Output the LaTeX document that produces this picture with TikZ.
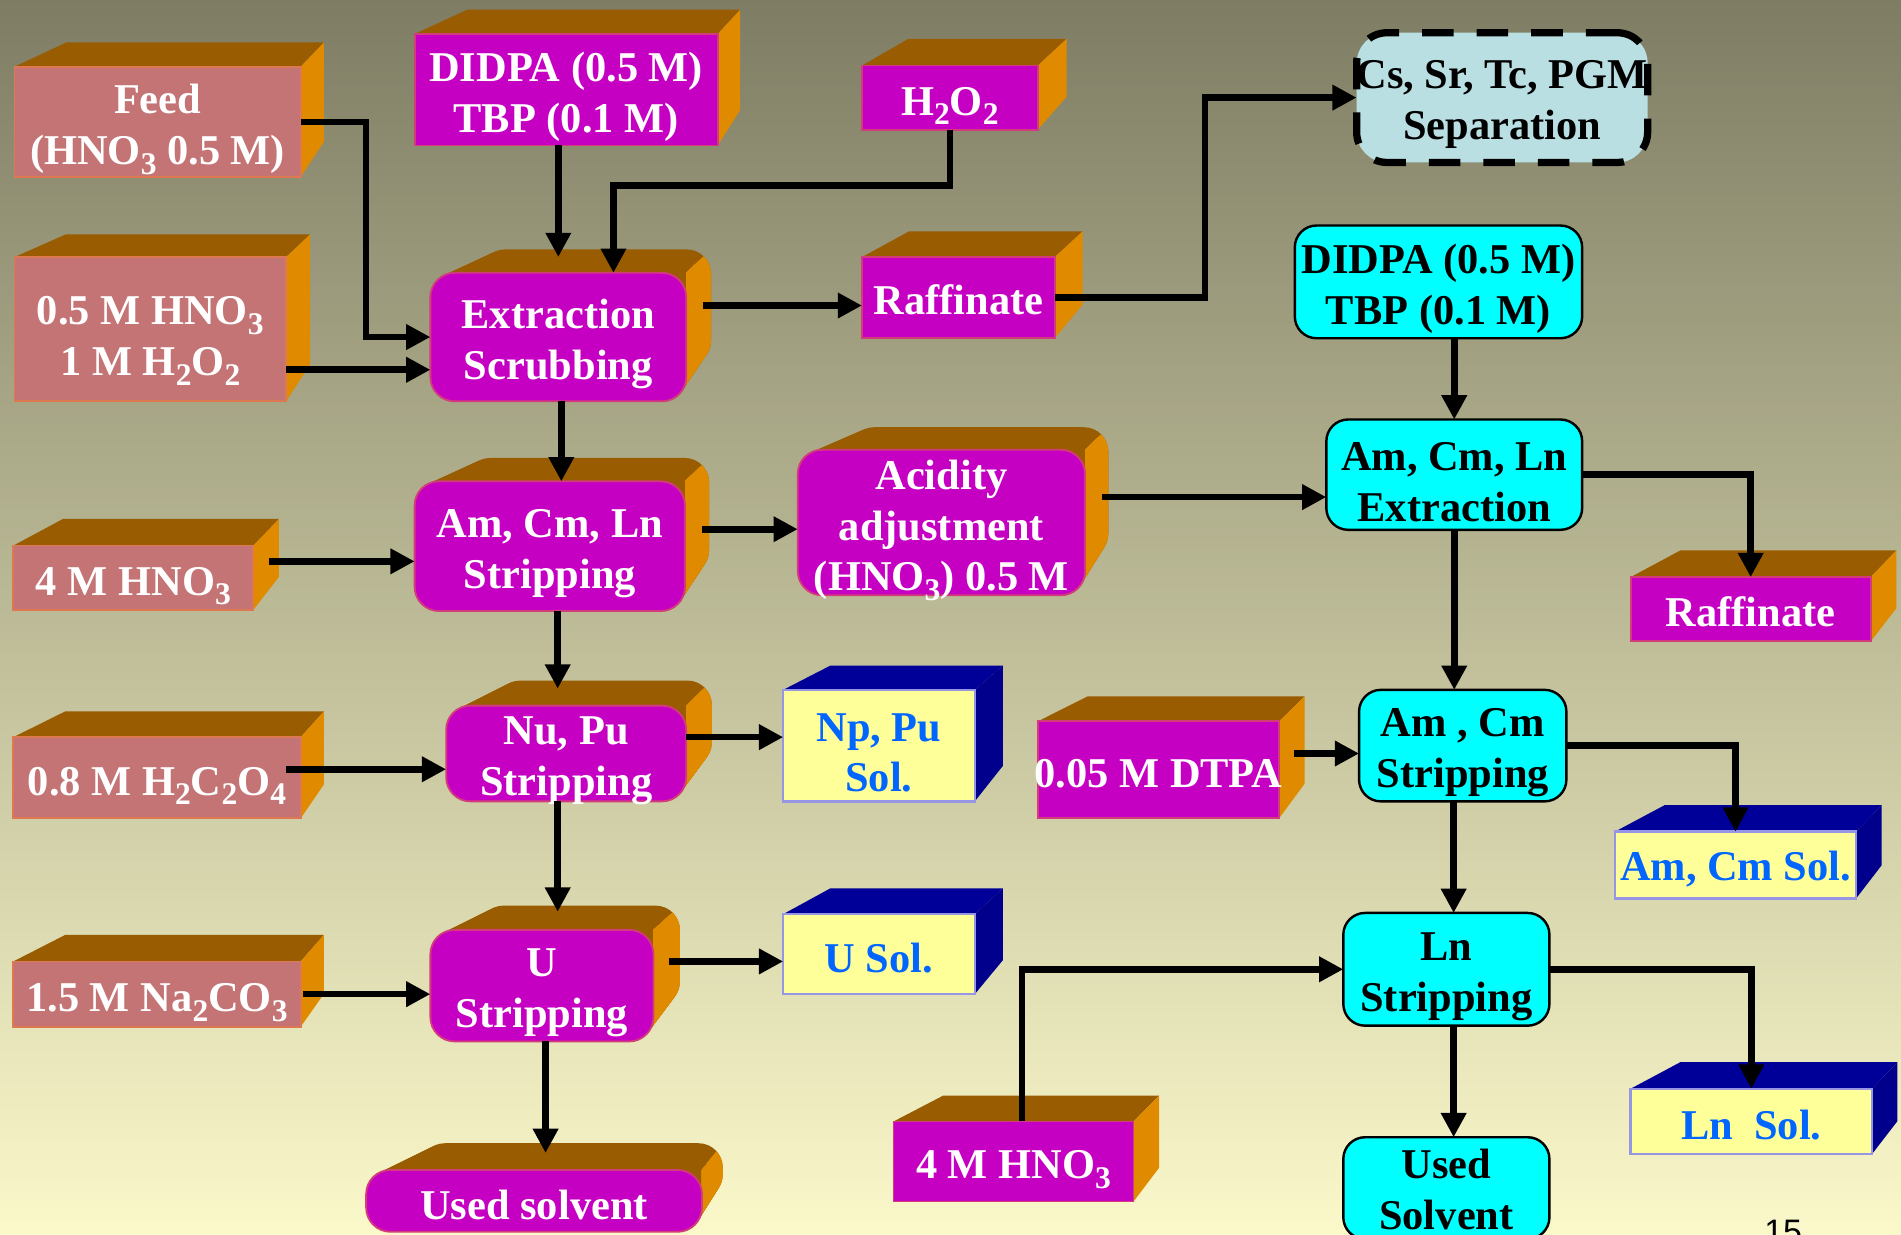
\documentclass[tikz,border=0pt]{standalone}
\usepackage{fontspec}
\setmainfont{Liberation Serif}
\newfontfamily\numfont{Liberation Sans}
\usetikzlibrary{arrows.meta,calc}

\definecolor{bgtop}{RGB}{126,125,100}
\definecolor{bgbot}{RGB}{251,249,202}
\definecolor{salmon}{RGB}{196,116,116}
\definecolor{salmonedge}{RGB}{222,120,80}
\definecolor{mag}{RGB}{198,0,194}
\definecolor{magedge}{RGB}{210,60,120}
\definecolor{lidbrown}{RGB}{154,92,0}
\definecolor{sideorange}{RGB}{224,138,0}
\definecolor{lidnavy}{RGB}{0,0,153}
\definecolor{sidenavy}{RGB}{0,0,140}
\definecolor{solfill}{RGB}{255,255,153}
\definecolor{soledge}{RGB}{150,150,228}
\definecolor{soltext}{RGB}{0,102,255}
\definecolor{sepfill}{RGB}{186,223,227}
\definecolor{aqua}{RGB}{0,255,255}

\newcommand\bigtext{\fontsize{35}{42}\selectfont\bfseries}
\newcommand\sub[1]{\raisebox{-8pt}[0pt][0pt]{\fontsize{26}{26}\selectfont #1}}

% back corners of a box whose faces recede towards a vanishing point
% #1-#4 front face x1,y1,x2,y2
\newcommand\backcorners[4]{%
  \pgfmathsetmacro\vpx{(#1+#3)/2+310}%
  \pgfmathsetmacro\vpy{(#2+#4)/2-246}%
  \pgfmathsetmacro\bkl{#1+0.1*(\vpx-#1)}%
  \pgfmathsetmacro\bkr{#3+0.1*(\vpx-#3)}%
  \pgfmathsetmacro\bkt{#2+0.1*(\vpy-#2)}%
  \pgfmathsetmacro\bkb{#4+0.1*(\vpy-#4)}%
}
% square-edged box: lid #5, side #6
\newcommand\slab[6]{%
  \backcorners{#1}{#2}{#3}{#4}%
  \fill[#5] (#1,#2) -- (\bkl,\bkt) -- (\bkr,\bkt) -- (#3,#2) -- cycle;
  \fill[#6] (#3,#2) -- (\bkr,\bkt) -- (\bkr,\bkb) -- (#3,#4) -- cycle;
}
% round-edged box: a sweep of rounded rectangles from the back to the front
\newcommand\sweep[5]{%
  \foreach \t in {0,0.05,...,1.01}{%
    \pgfmathsetmacro\sxa{#1+\t*(\bkl-#1)}%
    \pgfmathsetmacro\sya{#2+\t*(\bkt-#2)}%
    \pgfmathsetmacro\sxb{#3+\t*(\bkr-#3)}%
    \pgfmathsetmacro\syb{#4+\t*(\bkb-#4)}%
    \fill[#5,rounded corners=20pt] (\sxa,\sya) rectangle (\sxb,\syb);
  }%
}
\newcommand\pillow[6]{%
  \backcorners{#1}{#2}{#3}{#4}%
  \sweep{#1}{#2}{#3}{#4}{#5}%
  \begin{scope}
    \clip (#3,#2) -- (\bkr,\bkt) -- (\bkr+100,\bkt) -- (\bkr+100,#4+100) -- (#3,#4+100) -- cycle;
    \sweep{#1}{#2}{#3}{#4}{#6}%
  \end{scope}
}
% front face as a named node with its caption: [#1 caption drop]; #2 name;
% #3-#6 x1,y1,x2,y2; #7 style; #8 text colour; #9 text
\newcommand\face[9][3]{%
  \pgfmathsetmacro\fcx{(#3+#5)/2}\pgfmathsetmacro\fcy{(#4+#6)/2}%
  \pgfmathsetmacro\fw{#5-#3}\pgfmathsetmacro\fh{#6-#4}%
  \node[#7,minimum width=\fw pt,minimum height=\fh pt] (#2) at (\fcx,\fcy) {};
  \node[caption,text=#8] (#2-text) at ($(#2.center)+(0,#1)$) {#9};
}
\newcommand\salmonslab[7][3]{\slab{#3}{#4}{#5}{#6}{lidbrown}{sideorange}\face[#1]{#2}{#3}{#4}{#5}{#6}{salmonface}{white}{#7}}
\newcommand\magslab[7][3]{\slab{#3}{#4}{#5}{#6}{lidbrown}{sideorange}\face[#1]{#2}{#3}{#4}{#5}{#6}{magface}{white}{#7}}
\newcommand\magpillow[7][3]{\pillow{#3}{#4}{#5}{#6}{lidbrown}{sideorange}\face[#1]{#2}{#3}{#4}{#5}{#6}{magroundface}{white}{#7}}
\newcommand\solslab[7][3]{\slab{#3}{#4}{#5}{#6}{lidnavy}{sidenavy}\face[#1]{#2}{#3}{#4}{#5}{#6}{solface}{soltext}{#7}}

\tikzset{
  conn/.style={line width=5.5pt,-{Triangle[length=20pt,width=20pt]}},
  caption/.style={inner sep=0pt,outer sep=0pt,align=center,font=\bigtext},
  shapebase/.style={inner sep=0pt,outer sep=0pt},
  salmonface/.style={shapebase,fill=salmon,draw=salmonedge,line width=1.5pt},
  magface/.style={shapebase,fill=mag,draw=magedge,line width=1.5pt},
  magroundface/.style={magface,rounded corners=20pt},
  cyanface/.style={shapebase,fill=aqua,draw=black,line width=2pt,rounded corners=18pt},
  solface/.style={shapebase,fill=solfill,draw=soledge,line width=2pt},
  sepface/.style={shapebase,fill=sepfill,draw=black,line width=6pt,dash pattern=on 26pt off 19pt,rounded corners=25pt},
}

\begin{document}
\begin{tikzpicture}[x=1pt,y=-1pt]
\useasboundingbox (0,0) rectangle (1568,1018);
\clip (0,0) rectangle (1568,1018);
\shade[top color=bgtop,bottom color=bgbot] (0,0) rectangle (1568,1018);

% feed and reagent streams
\salmonslab[6]{feed}{12}{55}{248}{146}{Feed\\(HNO\sub{3} 0.5 M)}
\salmonslab[6]{hnoa}{12}{212}{236}{331}{0.5 M HNO\sub{3}\\1 M H\sub{2}O\sub{2}}
\salmonslab{hnoc}{11}{450}{209}{503}{4 M HNO\sub{3}}
\salmonslab{oxal}{11}{608}{248}{675}{0.8 M H\sub{2}C\sub{2}O\sub{4}}
\salmonslab{carb}{11}{793}{248}{847}{1.5 M Na\sub{2}CO\sub{3}}

\magslab[6]{didpa}{342}{28}{592}{120}{DIDPA (0.5 M)\\TBP (0.1 M)}
\magslab{hoo}{711}{54}{856}{107}{H\sub{2}O\sub{2}}
\magslab[2]{raffa}{711}{212}{870}{279}{Raffinate}
\magslab{hnob}{737}{925}{935}{991}{4 M HNO\sub{3}}
\magslab{dtpa}{856}{595}{1055}{675}{0.05 M DTPA}
\magslab[2]{raffb}{1345}{476}{1543}{529}{Raffinate}

% first cycle
\magpillow[6]{extr}{355}{225}{566}{331}{Extraction\\Scrubbing}
\magpillow[6]{amstr}{342}{397}{565}{504}{Am, Cm, Ln\\Stripping}
\magpillow[6]{acid}{658}{371}{895}{491}{Acidity\\adjustment\\(HNO\sub{3}) 0.5 M}
\magpillow[6]{nupu}{368}{582}{566}{661}{Nu, Pu\\Stripping}
\magpillow[6]{ustr}{355}{767}{539}{859}{U\\Stripping}
\magpillow{used}{302}{965}{579}{1016}{Used solvent}

% products
\solslab[6]{nppu}{646}{569}{804}{661}{Np, Pu\\Sol.}
\solslab{usol}{646}{754}{804}{820}{U Sol.}
\solslab{amsol}{1332}{686}{1531}{741}{Am, Cm Sol.}
\solslab{lnsol}{1345}{898}{1544}{952}{Ln~~Sol.}

% second cycle
\face[6]{didpab}{1068}{186}{1305}{279}{cyanface}{black}{DIDPA (0.5 M)\\TBP (0.1 M)}
\face[6]{amext}{1094}{346}{1305}{437}{cyanface}{black}{Am, Cm, Ln\\Extraction}
\face[6]{amcm}{1121}{569}{1292}{661}{cyanface}{black}{Am , Cm\\Stripping}
\face[6]{lnstr}{1108}{753}{1278}{846}{cyanface}{black}{Ln\\Stripping}
\face[1]{usedb}{1108}{938}{1278}{1022}{cyanface}{black}{Used\\Solvent}
\face[6]{sep}{1119}{27}{1359}{134}{sepface}{black}{Cs, Sr, Tc, PGM\\Separation}

% flows
\draw[conn] (feed.east) -- ++(54,0) |- (extr.west);
\draw[conn] ($(hnoa.east)+(0,33.5)$) -- ($(extr.west)+(0,27)$);
\draw[conn] ($(didpa.south)+(-6.5,0)$) -- ($(extr.north)+(0,-13)$);
\draw[conn] (hoo.south) -- ++(0,46) -| ($(extr.north)+(45.5,0)$);
\draw[conn] ($(extr.east)+(14,-26)$) -- ($(raffa.west)+(0,6.5)$);
\draw[conn] (raffa.east) -- ++(124,0) |- (sep.west);
\draw[conn] ($(didpab.south)+(13,0)$) -- (amext.north);
\draw[conn] ($(extr.south)+(2.5,0)$) -- ($(amstr.north)+(9.5,0)$);
\draw[conn] ($(hnoc.east)+(13,-13.5)$) -- ($(amstr.west)+(0,12.5)$);
\draw[conn] ($(amstr.east)+(14,-14)$) -- ($(acid.west)+(0,5.5)$);
\draw[conn] ($(acid.east)+(14,-21)$) -- ($(amext.west)+(0,18.5)$);
\draw[conn] (amext.east) -| (raffb.north);
\draw[conn] (amext.south) -- ($(amcm.north)+(-7,0)$);
\draw[conn] ($(amstr.south)+(6.5,0)$) -- ($(nupu.north)+(-7,-14)$);
\draw[conn] ($(oxal.east)+(-12,-7)$) -- ($(nupu.west)+(0,13)$);
\draw[conn] ($(nupu.east)+(0,-13.5)$) -- ($(nppu.west)+(0,-7)$);
\draw[conn] ($(dtpa.east)+(12.5,-13.5)$) -- ($(amcm.west)+(0,6.5)$);
\draw[conn] (amcm.east) -| (amsol.north);
\draw[conn] ($(nupu.south)+(-7,0)$) -- ($(ustr.north)+(13,-15)$);
\draw[conn] ($(carb.east)+(2,0)$) -- ($(ustr.west)+(0,7)$);
\draw[conn] ($(ustr.east)+(13,-20)$) -- ($(usol.west)+(0,6)$);
\draw[conn] ($(ustr.south)+(3,0)$) -- ($(used.north)+(9.5,-14)$);
\draw[conn] ($(amcm.south)+(-7.5,0)$) -- ($(lnstr.north)+(6,0)$);
\draw[conn] ($(hnob.north)+(7,0)$) |- (lnstr.west);
\draw[conn] (lnstr.east) -| (lnsol.north);
\draw[conn] ($(lnstr.south)+(6,0)$) -- ($(usedb.north)+(6,0)$);

% slide number
\node[font=\numfont\fontsize{28}{28}\selectfont,anchor=base west,inner sep=0pt] (pageno) at (1455,1026) {15};
\end{tikzpicture}
\end{document}
